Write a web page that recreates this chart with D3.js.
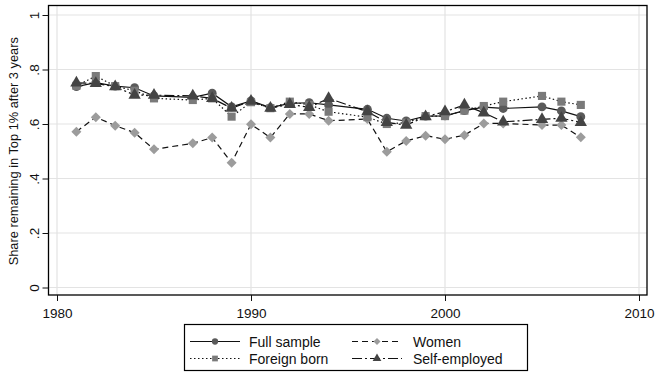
<!DOCTYPE html>
<html>
<head>
<meta charset="utf-8">
<script src="https://cdn.jsdelivr.net/npm/d3@7"></script>
<style>
  body { margin: 0; background: #fff; }
  text { font-family: "Liberation Sans", Arial, sans-serif; }
</style>
</head>
<body>
<div id="chart"></div>
<script>
var years = [1981, 1982, 1983, 1984, 1985, 1987, 1988, 1989, 1990, 1991, 1992, 1993, 1994,
  1996, 1997, 1998, 1999, 2000, 2001, 2002, 2003, 2005, 2006, 2007]

var fullSample = [0.737, 0.752, 0.739, 0.733, 0.703, 0.698, 0.713, 0.663, 0.685, 0.660, 0.676, 0.678, 0.670,
  0.654, 0.621, 0.611, 0.629, 0.630, 0.649, 0.662, 0.657, 0.663, 0.648, 0.627]
var women = [0.572, 0.625, 0.594, 0.568, 0.507, 0.529, 0.550, 0.458, 0.599, 0.550, 0.637, 0.637, 0.612,
  0.618, 0.498, 0.538, 0.557, 0.544, 0.559, 0.602, 0.602, 0.596, 0.596, 0.551]
var foreignBorn = [0.740, 0.776, 0.739, 0.722, 0.694, 0.688, 0.694, 0.627, 0.680, 0.658, 0.682, 0.670, 0.645,
  0.625, 0.600, 0.605, 0.629, 0.629, 0.649, 0.666, 0.682, 0.703, 0.682, 0.670]
var selfEmployed = [0.751, 0.749, 0.737, 0.706, 0.706, 0.703, 0.694, 0.658, 0.684, 0.658, 0.672, 0.661, 0.694,
  0.645, 0.606, 0.596, 0.627, 0.645, 0.670, 0.641, 0.608, 0.617, 0.621, 0.606]

var yTicks = [0, 0.2, 0.4, 0.6, 0.8, 1]
var yTickLabels = ['0', '.2', '.4', '.6', '.8', '1']
var xTicks = [1980, 1990, 2000, 2010]

var seriesNames = ['Full sample', 'Women', 'Foreign born', 'Self-employed']

var width = 655, height = 376
var svg = d3.select('#chart').append('svg')
  .attr('width', width)
  .attr('height', height)

var x = d3.scaleLinear().domain([1980, 2010]).range([57, 639])
var y = d3.scaleLinear().domain([0, 1]).range([287.5, 15])

// grid
svg.selectAll('.hgrid').data(yTicks).enter().append('line')
  .attr('x1', 49).attr('x2', 647)
  .attr('y1', function(d){return y(d)}).attr('y2', function(d){return y(d)})
  .attr('stroke', '#e3e3e3').attr('stroke-width', 1.2)
svg.selectAll('.vgrid').data(xTicks).enter().append('line')
  .attr('y1', 5).attr('y2', 295)
  .attr('x1', function(d){return x(d)}).attr('x2', function(d){return x(d)})
  .attr('stroke', '#e3e3e3').attr('stroke-width', 1.2)

// frame
svg.append('rect')
  .attr('x', 48.5).attr('y', 5.5).attr('width', 598.5).attr('height', 289.5)
  .attr('fill', 'none').attr('stroke', '#000').attr('stroke-width', 1.3)

// axes
var yAxis = d3.axisLeft(y).tickValues(yTicks).tickSize(6)
  .tickFormat(function(d, i){return yTickLabels[i]})
var gy = svg.append('g').attr('transform', 'translate(48.5,0)').call(yAxis)
gy.select('.domain').remove()
gy.selectAll('.tick line').attr('stroke', '#111')
gy.selectAll('text')
  .attr('font-size', 13.5).attr('fill', '#111')
  .attr('x', 0).attr('y', 0).attr('dy', 0)
  .attr('transform', 'translate(-10,0) rotate(-90)')
  .attr('text-anchor', 'middle')

var xAxis = d3.axisBottom(x).tickValues(xTicks).tickSize(6).tickFormat(d3.format('d'))
var gx = svg.append('g').attr('transform', 'translate(0,295)').call(xAxis)
gx.select('.domain').remove()
gx.selectAll('.tick line').attr('stroke', '#111')
gx.selectAll('text').attr('font-size', 13.5).attr('fill', '#111').attr('dy', '1.0em')

svg.append('text')
  .attr('transform', 'translate(18,' + y(0.5) + ') rotate(-90)')
  .attr('text-anchor', 'middle')
  .attr('font-size', 12.8)
  .attr('fill', '#111')
  .text('Share remaining in Top 1% after 3 years')

var styles = [
  {values: fullSample, dash: null, shape: d3.symbolCircle, size: 62, rot: 0, fill: '#5a5a5a'},
  {values: women, dash: '6,4', shape: d3.symbolSquare, size: 50, rot: 45, fill: '#9c9c9c'},
  {values: foreignBorn, dash: '1.5,2.5', shape: d3.symbolSquare, size: 66, rot: 0, fill: '#7a7a7a'},
  {values: selfEmployed, dash: '10,3,2,3', shape: d3.symbolTriangle, size: 66, rot: 0, fill: '#444'}
]

var line = d3.line()
  .x(function(d){return x(d[0])})
  .y(function(d){return y(d[1])})

styles.forEach(function(s){
  var pts = years.map(function(yr, i){return [yr, s.values[i]]})
  svg.append('path')
    .datum(pts)
    .attr('d', line)
    .attr('fill', 'none')
    .attr('stroke', '#111')
    .attr('stroke-width', 1.2)
    .attr('stroke-dasharray', s.dash)
})

styles.forEach(function(s){
  var pts = years.map(function(yr, i){return [yr, s.values[i]]})
  svg.selectAll(null).data(pts).enter().append('path')
    .attr('d', d3.symbol().type(s.shape).size(s.size))
    .attr('transform', function(d){
      return 'translate(' + x(d[0]) + ',' + y(d[1]) + ') rotate(' + s.rot + ')'
    })
    .attr('fill', s.fill)
})

// legend
var leg = svg.append('g')
leg.append('rect')
  .attr('x', 184.5).attr('y', 324.5).attr('width', 343).attr('height', 46)
  .attr('fill', '#fff').attr('stroke', '#000').attr('stroke-width', 1.2)

var legPos = [
  {lx: 190, ly: 341.5, tx: 249},
  {lx: 352, ly: 341.5, tx: 413},
  {lx: 190, ly: 358.5, tx: 249},
  {lx: 352, ly: 358.5, tx: 413}
]
styles.forEach(function(s, i){
  var p = legPos[i]
  leg.append('line')
    .attr('x1', p.lx).attr('x2', p.lx + 50)
    .attr('y1', p.ly).attr('y2', p.ly)
    .attr('stroke', '#111').attr('stroke-width', 1.2)
    .attr('stroke-dasharray', s.dash)
  leg.append('path')
    .attr('d', d3.symbol().type(s.shape).size(s.size * 0.5))
    .attr('transform', 'translate(' + (p.lx + 25) + ',' + p.ly + ') rotate(' + s.rot + ')')
    .attr('fill', s.fill)
  leg.append('text')
    .attr('x', p.tx).attr('y', p.ly)
    .attr('dy', '0.36em')
    .attr('font-size', 14)
    .attr('fill', '#111')
    .text(seriesNames[i])
})
</script>
</body>
</html>
